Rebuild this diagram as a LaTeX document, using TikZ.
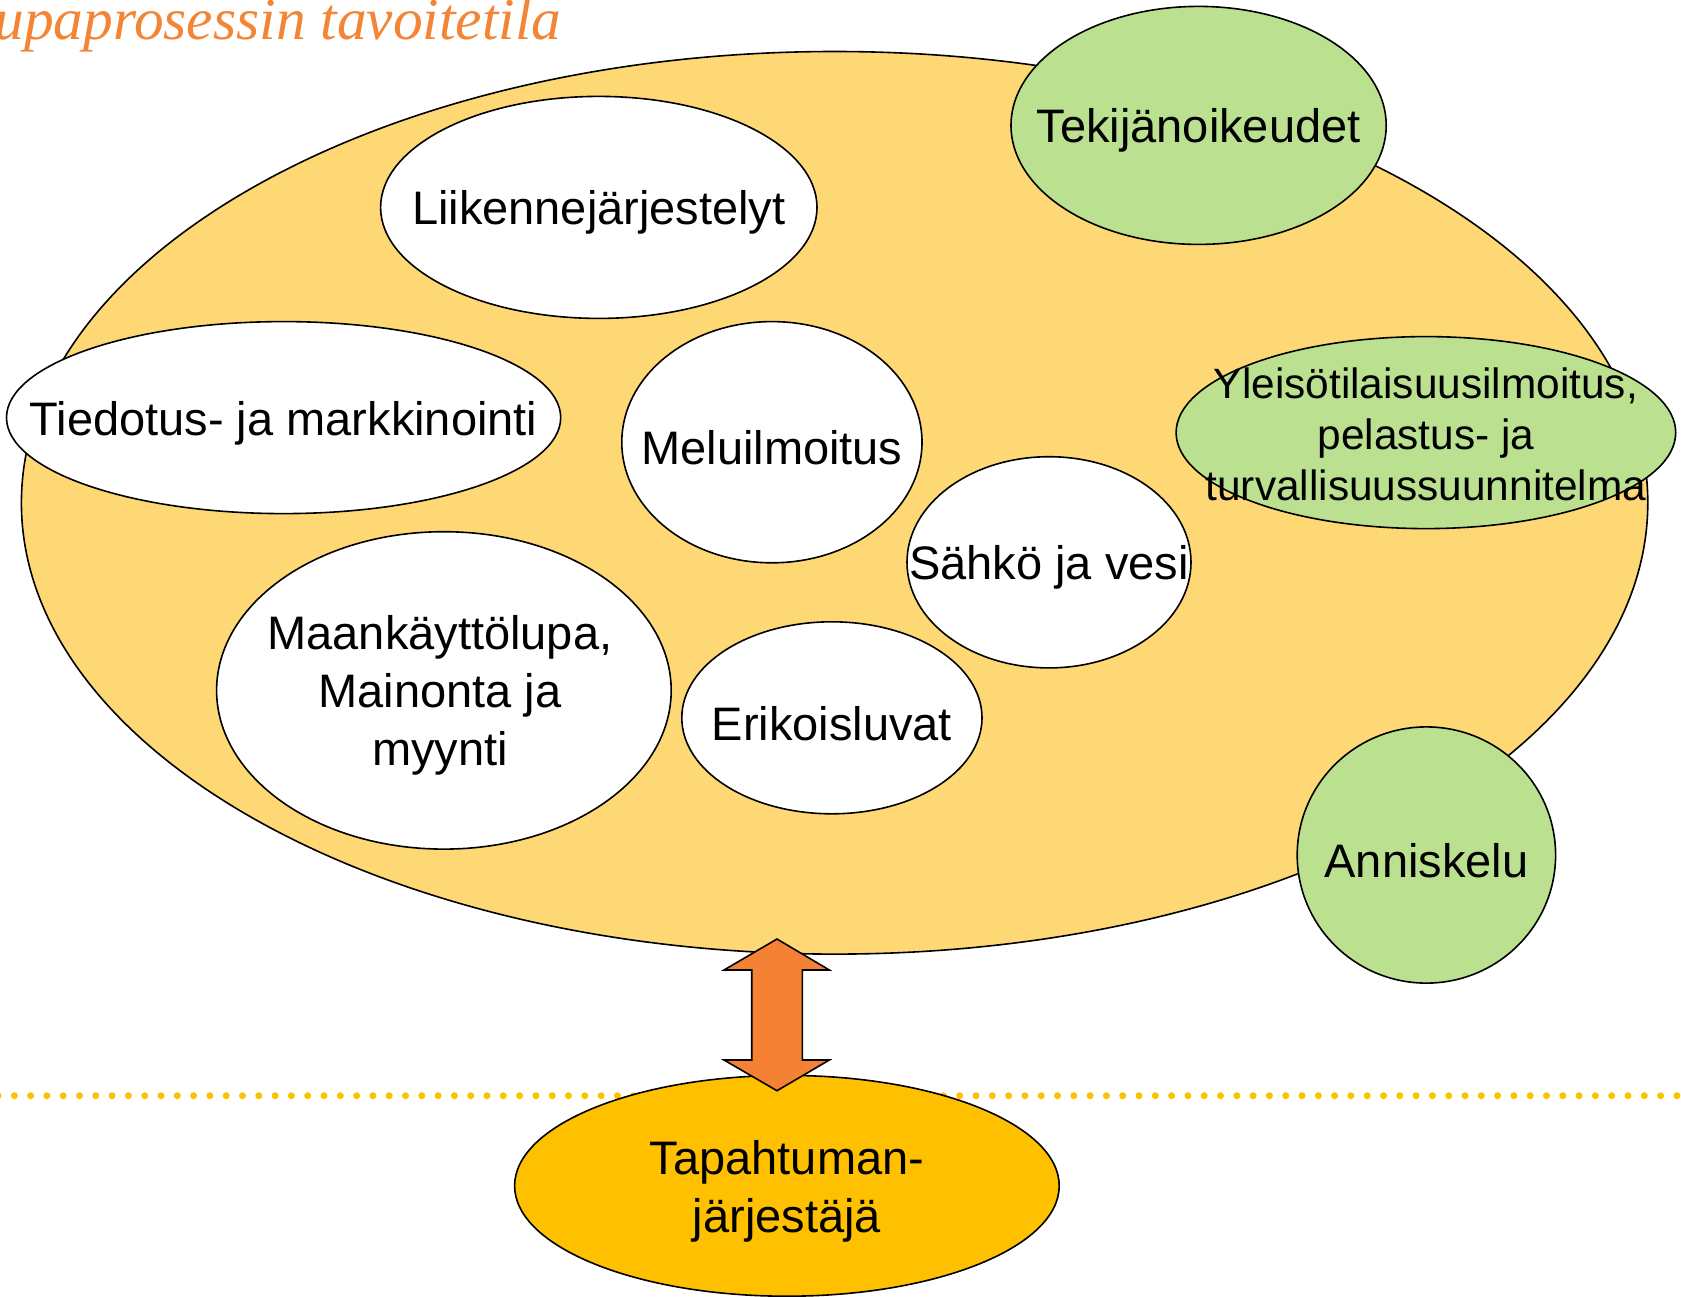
\documentclass[tikz,border=0pt]{standalone}
\usepackage{fontspec}
\setmainfont{Liberation Sans}
\newfontfamily\otsikkofont{Liberation Serif}
\usetikzlibrary{shapes.geometric}
\definecolor{pohja}{RGB}{254,216,117}
\definecolor{vihrea}{RGB}{186,224,144}
\definecolor{oranssi}{RGB}{255,192,0}
\definecolor{nuoli}{RGB}{245,130,52}
\definecolor{otsikko}{RGB}{243,133,55}
\tikzset{
  pallo/.style={ellipse, draw, line width=0.8pt, inner sep=0pt},
  valk/.style={pallo, fill=white},
  vihr/.style={pallo, fill=vihrea},
  txt/.style={font=\fontsize{23.5}{29}\selectfont, align=center, inner sep=0pt, yshift=-2.7pt},
  pieni/.style={font=\fontsize{21.2}{25.5}\selectfont, align=center, inner sep=0pt, yshift=-1pt},
}
\begin{document}
\begin{tikzpicture}[x=0.5pt,y=-0.5pt]
\useasboundingbox (0,0) rectangle (1681,1296);
% otsikko
\node[anchor=base west, inner sep=0pt, text=otsikko, font=\otsikkofont\fontsize{29.7}{35}\itshape\selectfont] (otsikko) at (-6,39) {upaprosessin tavoitetila};
% iso ellipsi
\node[pallo, fill=pohja, minimum width=813.2pt, minimum height=451.3pt] (kehys) at (834.6,502.8){};
\node[valk, minimum width=218.2pt, minimum height=111pt, label={[txt]center:Liikennejärjestelyt}] (liikenne) at (598.8,207.4){};
\node[valk, minimum width=277.1pt, minimum height=96pt, label={[txt]center:Tiedotus- ja markkinointi}] (tiedotus) at (283.6,417.6){};
\node[valk, minimum width=150.1pt, minimum height=120.6pt, label={[txt]center:Meluilmoitus}] (melu) at (771.9,442.2){};
\node[valk, minimum width=142pt, minimum height=105.6pt, label={[txt]center:Sähkö ja vesi}] (sahko) at (1049,562.3){};
\node[valk, minimum width=227.3pt, minimum height=158.7pt, label={[txt, xshift=-2pt]center:{Maankäyttölupa,\\ Mainonta ja\\ myynti}}] (maankaytto) at (443.9,690.4){};
\node[valk, minimum width=150.1pt, minimum height=96pt, label={[txt]center:Erikoisluvat}] (erikois) at (831.9,717.8){};
% vihreat
\node[vihr, minimum width=187.6pt, minimum height=119pt, label={[txt]center:Tekijänoikeudet}] (tekija) at (1198.6,125.4){};
\node[vihr, minimum width=249.8pt, minimum height=96pt, label={[pieni]center:{Yleisötilaisuusilmoitus,\\ pelastus- ja\\ turvallisuussuunnitelma}}] (yleiso) at (1425.9,432.6){};
\node[vihr, minimum width=129.2pt, minimum height=128.1pt, label={[txt]center:Anniskelu}] (anniskelu) at (1426.4,855){};
% katkoviiva ja jarjestaja
\coordinate (viiva0) at (-2,1095.7);
\coordinate (viiva1) at (1690,1095.7);
\draw[oranssi, line width=3.5pt, line cap=round, dash pattern=on 0pt off 8.15pt] (viiva0) -- (viiva1);
\node[pallo, fill=oranssi, minimum width=272.3pt, minimum height=110.4pt, label={[txt]center:{Tapahtuman-\\ järjestäjä}}] (jarjestaja) at (786.9,1185.8){};
% nuoli
\filldraw[fill=nuoli, line width=0.8pt, line join=miter] (777,939) -- (829.3,970) -- (802.3,970) -- (802.3,1060) -- (829.3,1060) -- (777,1090.7) -- (724,1060) -- (751.7,1060) -- (751.7,970) -- (724,970) -- cycle;
\end{tikzpicture}
\end{document}
